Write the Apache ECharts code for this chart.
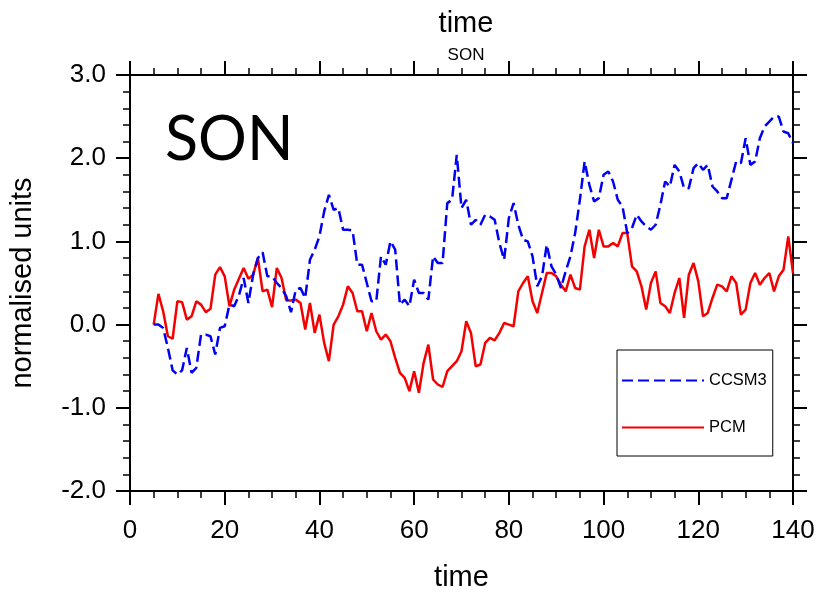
<!DOCTYPE html>
<html>
<head>
<meta charset="utf-8">
<script src="https://cdn.jsdelivr.net/npm/echarts@6/dist/echarts.min.js"></script>
<style>
  html, body { margin: 0; padding: 0; background: #fff; }
  #chart { width: 821px; height: 592px; }
</style>
</head>
<body>
<div id="chart"></div>
<script>
// Time index (years) of each sample
const years = [
  5, 6, 7, 8, 9, 10, 11, 12, 13, 14, 15, 16, 17, 18, 19, 20, 21, 22, 23, 24,
  25, 26, 27, 28, 29, 30, 31, 32, 33, 34, 35, 36, 37, 38, 39, 40, 41, 42, 43, 44,
  45, 46, 47, 48, 49, 50, 51, 52, 53, 54, 55, 56, 57, 58, 59, 60, 61, 62, 63, 64,
  65, 66, 67, 68, 69, 70, 71, 72, 73, 74, 75, 76, 77, 78, 79, 80, 81, 82, 83, 84,
  85, 86, 87, 88, 89, 90, 91, 92, 93, 94, 95, 96, 97, 98, 99, 100, 101, 102, 103, 104,
  105, 106, 107, 108, 109, 110, 111, 112, 113, 114, 115, 116, 117, 118, 119, 120, 121, 122, 123, 124,
  125, 126, 127, 128, 129, 130, 131, 132, 133, 134, 135, 136, 137, 138, 139, 140
];

// CCSM3 normalised SON anomaly
const ccsm3 = [
  0.00, 0.00, -0.04, -0.28, -0.55, -0.60, -0.55, -0.28, -0.58, -0.52,
  -0.12, -0.12, -0.14, -0.36, -0.04, -0.02, 0.24, 0.22, 0.35, 0.56,
  0.26, 0.60, 0.80, 0.87, 0.58, 0.58, 0.50, 0.44, 0.34, 0.15,
  0.42, 0.44, 0.32, 0.78, 0.90, 1.06, 1.36, 1.56, 1.38, 1.40,
  1.14, 1.14, 1.13, 0.72, 0.72, 0.50, 0.28, 0.28, 0.82, 0.72,
  1.00, 0.90, 0.24, 0.30, 0.22, 0.54, 0.38, 0.38, 0.30, 0.82,
  0.74, 0.74, 1.46, 1.50, 2.04, 1.40, 1.50, 1.20, 1.26, 1.20,
  1.32, 1.30, 1.26, 0.98, 0.78, 1.28, 1.46, 1.20, 1.02, 1.00,
  0.82, 0.46, 0.58, 0.96, 0.70, 0.60, 0.44, 0.64, 0.82, 1.10,
  1.50, 1.96, 1.68, 1.48, 1.52, 1.80, 1.84, 1.72, 1.50, 1.42,
  1.10, 1.16, 1.32, 1.24, 1.18, 1.14, 1.20, 1.44, 1.72, 1.66,
  1.92, 1.84, 1.64, 1.64, 1.88, 1.94, 1.86, 1.92, 1.66, 1.60,
  1.52, 1.52, 1.74, 1.96, 1.94, 2.24, 1.92, 1.96, 2.24, 2.38,
  2.44, 2.50, 2.50, 2.32, 2.30, 2.18
];

// PCM normalised SON anomaly
const pcm = [
  0.00, 0.37, 0.16, -0.14, -0.17, 0.28, 0.27, 0.06, 0.10, 0.28,
  0.24, 0.15, 0.19, 0.60, 0.69, 0.58, 0.22, 0.42, 0.55, 0.68,
  0.55, 0.60, 0.80, 0.40, 0.42, 0.21, 0.68, 0.56, 0.29, 0.29,
  0.30, 0.26, -0.06, 0.26, -0.10, 0.12, -0.22, -0.44, 0.00, 0.10,
  0.24, 0.46, 0.38, 0.16, 0.16, -0.08, 0.14, -0.08, -0.18, -0.12,
  -0.20, -0.40, -0.58, -0.64, -0.80, -0.56, -0.82, -0.46, -0.24, -0.66,
  -0.72, -0.75, -0.56, -0.50, -0.44, -0.32, 0.04, -0.10, -0.50, -0.48,
  -0.22, -0.16, -0.19, -0.10, 0.02, 0.00, -0.02, 0.40, 0.50, 0.58,
  0.28, 0.14, 0.38, 0.62, 0.62, 0.58, 0.48, 0.40, 0.60, 0.44,
  0.42, 0.94, 1.14, 0.80, 1.14, 0.94, 0.94, 0.98, 0.94, 1.10,
  1.10, 0.70, 0.64, 0.46, 0.18, 0.50, 0.64, 0.26, 0.22, 0.14,
  0.38, 0.56, 0.08, 0.60, 0.74, 0.52, 0.10, 0.14, 0.32, 0.48,
  0.46, 0.40, 0.58, 0.50, 0.12, 0.18, 0.50, 0.62, 0.48, 0.56,
  0.62, 0.40, 0.58, 0.66, 1.06, 0.62
];

const seriesNames = ['CCSM3', 'PCM'];
const xTicks = { min: 0, max: 140, step: 20 };
const yTicks = { min: -2, max: 3, step: 1 };

const FONT = '"Liberation Sans", Arial, Helvetica, sans-serif';
const AXIS_LINE = { show: true, onZero: false, lineStyle: { color: '#000', width: 2 } };
const MAJOR_TICK = { show: true, inside: false, length: 14, lineStyle: { color: '#000', width: 2 } };

function xAxisDef(pos, showLabels) {
  return {
    type: 'value', gridIndex: 0, position: pos,
    min: xTicks.min, max: xTicks.max, interval: xTicks.step,
    axisLine: AXIS_LINE,
    axisTick: MAJOR_TICK,
    minorTick: { show: true, splitNumber: 4, length: 7, lineStyle: { color: '#000', width: 1.5 } },
    splitLine: { show: false }, minorSplitLine: { show: false },
    axisLabel: { show: showLabels, fontSize: 26, color: '#000', fontFamily: FONT, margin: 27 },
    name: showLabels ? 'time' : '',
    nameLocation: 'middle', nameGap: 72,
    nameTextStyle: { fontSize: 29, color: '#000', fontFamily: FONT }
  };
}

function yAxisDef(pos, showLabels) {
  return {
    type: 'value', gridIndex: 0, position: pos,
    min: yTicks.min, max: yTicks.max, interval: yTicks.step,
    axisLine: AXIS_LINE,
    axisTick: MAJOR_TICK,
    minorTick: { show: true, splitNumber: 5, length: 7, lineStyle: { color: '#000', width: 1.5 } },
    splitLine: { show: false }, minorSplitLine: { show: false },
    axisLabel: {
      show: showLabels, fontSize: 26, color: '#000', fontFamily: FONT, margin: 24,
      formatter: v => v.toFixed(1)
    },
    name: showLabels ? 'normalised units' : '',
    nameLocation: 'middle', nameGap: 93, nameRotate: 90,
    nameTextStyle: { fontSize: 29, color: '#000', fontFamily: FONT }
  };
}

const chart = echarts.init(document.getElementById('chart'), null, { renderer: 'canvas' });

chart.setOption({
  animation: false,
  backgroundColor: '#fff',
  title: [
    { text: 'time', left: 461, top: 4, textAlign: 'center',
      textStyle: { fontSize: 29, fontWeight: 'normal', color: '#000', fontFamily: FONT } },
    { text: 'SON', left: 461, top: 42, textAlign: 'center',
      textStyle: { fontSize: 17, fontWeight: 'normal', color: '#000', fontFamily: FONT } },
    { text: 'SON', left: 160, top: 105,
      textStyle: { fontSize: 61, fontWeight: 'normal', color: '#000', fontFamily: 'Lato, "Noto Sans", sans-serif' } }
  ],
  grid: {
    left: 130, right: 28, top: 75, bottom: 101,
    containLabel: false, outerBoundsMode: 'none'
  },
  xAxis: [xAxisDef('bottom', true), xAxisDef('top', false)],
  yAxis: [yAxisDef('left', true), yAxisDef('right', false)],
  legend: {
    orient: 'vertical',
    left: 617, top: 350,
    padding: [22, 6, 20, 4],
    itemGap: 30,
    itemWidth: 82,
    itemHeight: 18,
    borderColor: '#000', borderWidth: 1,
    backgroundColor: '#fff',
    selectedMode: false,
    data: seriesNames,
    itemStyle: { opacity: 0, borderWidth: 0 },
    textStyle: { fontSize: 16.5, color: '#000', fontFamily: FONT }
  },
  series: [
    {
      name: seriesNames[0], type: 'line', xAxisIndex: 0, yAxisIndex: 0,
      data: years.map((t, i) => [t, ccsm3[i]]),
      symbol: 'none', smooth: false,
      lineStyle: { color: '#0000f5', width: 2.5, type: [11, 5] },
      itemStyle: { color: '#0000f5' },
      z: 3
    },
    {
      name: seriesNames[1], type: 'line', xAxisIndex: 0, yAxisIndex: 0,
      data: years.map((t, i) => [t, pcm[i]]),
      symbol: 'none', smooth: false,
      lineStyle: { color: '#f50000', width: 2.5 },
      itemStyle: { color: '#f50000' },
      z: 2
    }
  ]
});
</script>
</body>
</html>
